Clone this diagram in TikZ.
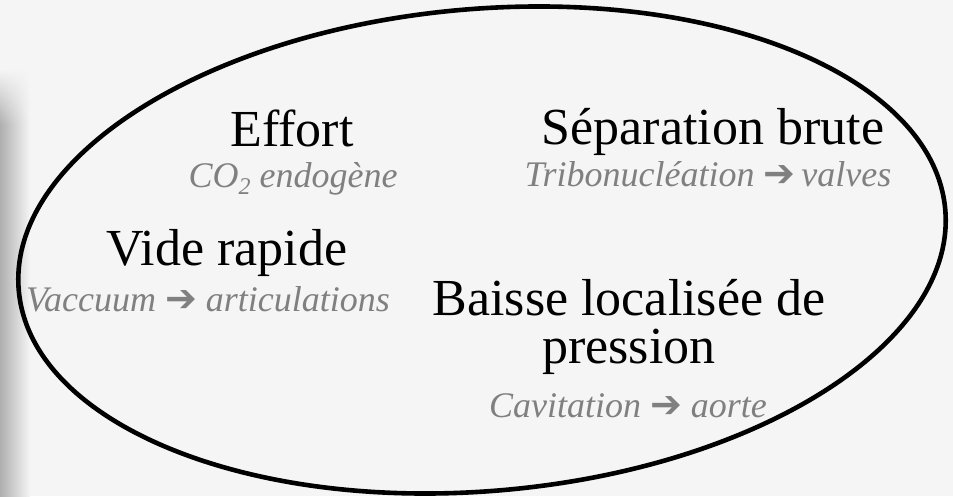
\documentclass[tikz,border=0pt]{standalone}
\usepackage{fontspec}
\setmainfont{Liberation Serif}
\newfontfamily\symfont{DejaVu Sans}
\usetikzlibrary{fadings}
\definecolor{bgc}{RGB}{245,245,245}
\definecolor{subc}{RGB}{128,128,128}
\definecolor{barc}{RGB}{175,175,175}
\newcommand{\arr}{{\symfont\fontsize{38}{40}\selectfont ➔}}
\begin{document}
\begin{tikzpicture}[x=1pt,y=1pt,
  main/.style={font=\fontsize{52}{56}\selectfont, text=black, inner sep=0pt, anchor=base},
  sub/.style={font=\fontsize{36}{40}\selectfont\itshape, text=subc, inner sep=0pt, anchor=base},
  ring/.style={line width=4.6pt, draw=black}]
\fill[bgc] (0,0) rectangle (953,496);
\useasboundingbox (0,0) rectangle (953,496);
\shade[left color=barc, right color=bgc] (0,0) rectangle (30,371);
\shade[left color=barc, right color=bgc, path fading=north] (0,370.5) rectangle (30,426);
\coordinate (c) at (482,246);
\begin{scope}[shift={(c)}, rotate=5]
\draw[ring] (0,0) ellipse [x radius=465pt, y radius=241pt];
\end{scope}
\node[main] (effort) at (292,349) {Effort};
\node[sub] (co2) at (293,308) {CO{\fontsize{24}{24}\selectfont\raisebox{-7pt}{2}} endogène};
\node[main] (sep) at (713,351) {Séparation brute};
\node[sub] (tribo) at (708,309) {Tribonucléation \arr\,valves};
\node[main] (vide) at (227,230) {Vide rapide};
\node[sub] (vac) at (208,185) {Vaccuum \arr\ articulations};
\node[main] (baisse) at (629,181) {Baisse localisée de};
\node[main] (press) at (629,133) {pression};
\node[sub] (cav) at (628,79) {Cavitation \arr\ aorte};
\end{tikzpicture}
\end{document}
